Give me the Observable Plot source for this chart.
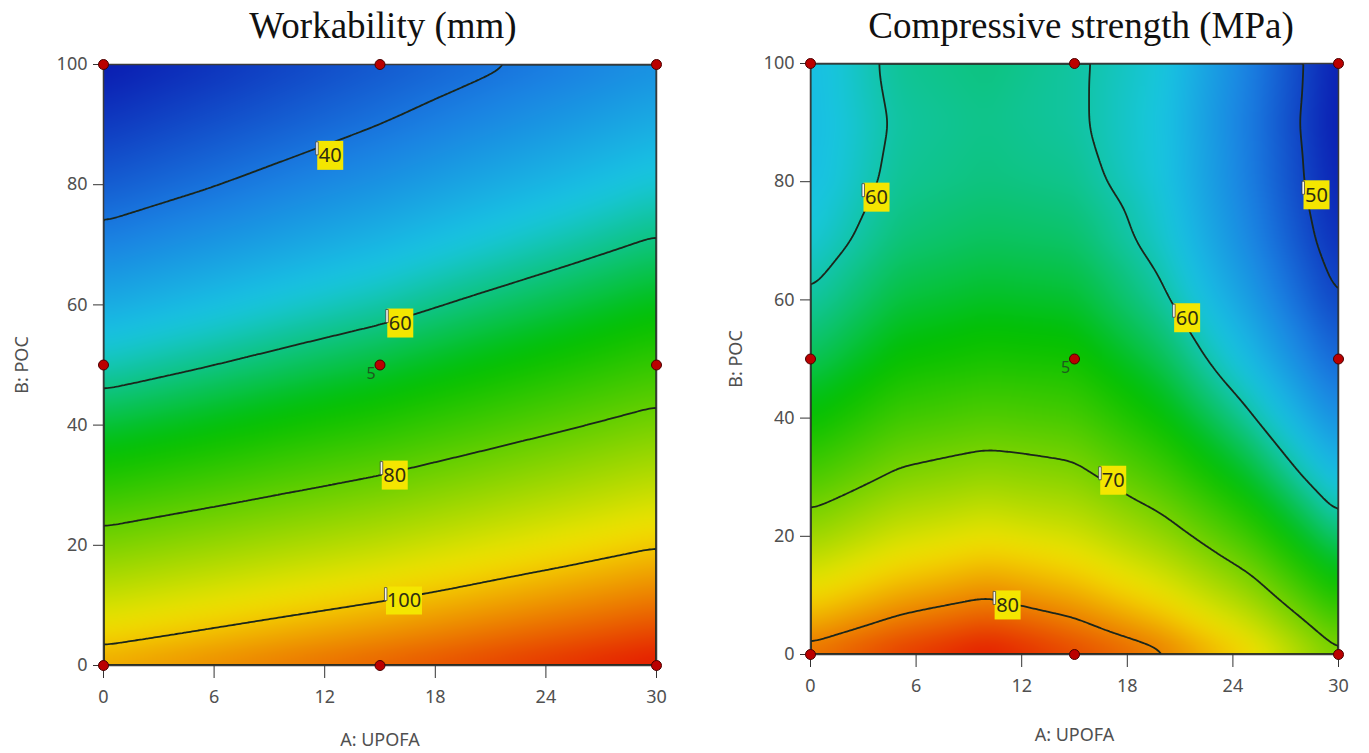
<!DOCTYPE html>
<html><head><meta charset="utf-8">
<script src="https://cdn.jsdelivr.net/npm/d3@7"></script>
<script src="https://cdn.jsdelivr.net/npm/@observablehq/plot@0.6"></script>
<style>
html,body{margin:0;padding:0;background:#fff;}
#root{position:relative;width:1369px;height:753px;overflow:hidden;background:#fff;}
.title{position:absolute;top:4px;font-family:"Liberation Serif","Times New Roman",serif;font-size:37px;color:#111;white-space:nowrap;transform:translateX(-50%);}
.panel{position:absolute;top:0;}
</style></head><body>
<div id="root">
  <div class="title" style="left:383px">Workability (mm)</div>
  <div class="title" style="left:1081px">Compressive strength (MPa)</div>
  <div class="panel" id="p1" style="left:0px"></div>
  <div class="panel" id="p2" style="left:690px"></div>
</div>
<script>
// ---- data ----
const gridA = [0, 5, 10, 15, 20, 25, 30];             // A: UPOFA grid columns
const gridB = [0, 10, 20, 30, 40, 50, 60, 70, 80, 90, 100]; // B: POC grid rows
// Workability (mm), rows = B (0..100), columns = A (0..30)
const workability = [
  [103.6, 106.1, 108.7, 111.2, 113.8, 116.4, 119.0],
  [ 92.9,  95.5,  98.1, 100.6, 103.4, 106.2, 109.0],
  [ 82.9,  85.5,  88.1,  90.6,  93.6,  96.6,  99.6],
  [ 73.5,  76.1,  78.8,  81.4,  84.5,  87.6,  90.7],
  [ 64.8,  67.4,  70.2,  72.8,  76.0,  79.2,  82.4],
  [ 56.7,  59.4,  62.2,  64.9,  68.2,  71.4,  74.7],
  [ 49.2,  52.0,  54.9,  57.6,  61.0,  64.2,  67.5],
  [ 42.4,  45.3,  48.2,  51.1,  54.4,  57.6,  60.9],
  [ 36.2,  39.2,  42.3,  45.2,  48.5,  51.6,  54.9],
  [ 30.7,  33.8,  36.9,  40.0,  43.2,  46.3,  49.5],
  [ 25.8,  29.0,  32.3,  35.5,  38.6,  41.5,  44.6]
];
// Compressive strength (MPa), rows = B (0..100), columns = A (0..30)
const strength = [
  [81.0, 83.2, 84.8, 82.8, 80.5, 76.5, 70.4],
  [76.1, 78.4, 79.8, 78.3, 75.6, 71.6, 65.6],
  [71.7, 74.2, 75.4, 74.3, 71.4, 67.2, 61.3],
  [67.9, 70.5, 71.5, 70.8, 67.7, 63.4, 57.7],
  [64.7, 67.4, 68.3, 67.8, 64.7, 60.3, 54.6],
  [62.1, 64.8, 65.6, 65.3, 62.3, 57.7, 52.0],
  [60.2, 62.9, 63.6, 63.3, 60.4, 55.7, 49.9],
  [58.8, 61.4, 62.1, 61.8, 59.2, 54.3, 48.5],
  [58.0, 60.6, 61.2, 60.8, 58.6, 53.6, 47.7],
  [57.8, 60.3, 60.9, 60.3, 58.5, 53.4, 47.3],
  [57.9, 60.6, 61.2, 60.3, 58.7, 53.8, 47.5]
];
const workLevels = [40, 60, 80, 100];
const strengthLevels = [50, 60, 70, 80];
const workLabelValues = [40, 60, 80, 100];
const workLabelA = [12.3, 16.1, 15.8, 16.3];
const workLabelB = [84.8, 56.9, 31.6, 10.8];
const strengthLabelValues = [60, 60, 50, 70, 80];
const strengthLabelA = [3.75, 21.4, 28.75, 17.2, 11.2];
const strengthLabelB = [77.3, 56.9, 77.7, 29.4, 8.3];
const designA = [0, 15, 30, 0, 15, 30, 0, 15, 30];
const designB = [0, 0, 0, 50, 50, 50, 100, 100, 100];
const centerA = [15], centerB = [50], centerRuns = ["5"];
const xTicks = [0, 6, 12, 18, 24, 30];
const yTicks = [0, 20, 40, 60, 80, 100];
const rampColors = ["#0a1ab0", "#1a7fe2", "#18c6e2", "#00c000", "#f4e400", "#e41400"];
const rampStops = [0, 0.17, 0.3, 0.46, 0.76, 1];

// ---- helpers ----
const ramp = t => {
  const i = Math.max(0, Math.min(rampStops.length - 2, d3.bisectRight(rampStops, t) - 1));
  const u = (t - rampStops[i]) / (rampStops[i + 1] - rampStops[i]);
  return d3.interpolateRgb(rampColors[i], rampColors[i + 1])(Math.max(0, Math.min(1, u)));
};
function gridPoints(grid) {
  const pts = [];
  grid.forEach((row, i) => row.forEach((v, j) => pts.push({a: gridA[j], b: gridB[i], v})));
  return pts;
}
function labelRows(vals, as, bs) { return vals.map((v, i) => ({v, a: as[i], b: bs[i], t: String(v)})); }
const box2 = {draw(ctx) { ctx.rect(-13, -15, 26, 29); }};
const box3 = {draw(ctx) { ctx.rect(-18, -14, 36, 28); }};
const brk2 = {draw(ctx) { ctx.rect(-14.5, -14, 2.5, 13); }};
const brk3 = {draw(ctx) { ctx.rect(-19.5, -13, 2.5, 13); }};

function panel(opts) {
  const pts = gridPoints(opts.grid);
  const labels = opts.labels;
  const l2 = labels.filter(d => d.t.length < 3), l3 = labels.filter(d => d.t.length >= 3);
  const design = designA.map((a, i) => ({a, b: designB[i]}));
  const center = centerA.map((a, i) => ({a, b: centerB[i], t: centerRuns[i]}));
  return Plot.plot({
    width: opts.width, height: 753,
    marginLeft: opts.ml, marginRight: opts.mr, marginTop: opts.mt, marginBottom: opts.mb,
    x: {domain: [0, 30]},
    y: {domain: [0, 100]},
    color: {type: "linear", domain: d3.extent(pts, d => d.v), interpolate: ramp},
    style: {fontFamily: "'Noto Sans', sans-serif", fontSize: "18px", color: "#505050", background: "transparent", overflow: "visible"},
    marks: [
      Plot.raster(pts, {x: "a", y: "b", fill: "v", interpolate: "barycentric", blur: 12, clip: true}),
      Plot.contour(pts, {x: "a", y: "b", value: "v", thresholds: opts.levels, interpolate: "barycentric", blur: 4, fill: "none", stroke: "#1b261b", strokeWidth: 1.8, clip: true}),
      Plot.frame({stroke: "#3a3a3a", strokeWidth: 1.5}),
      Plot.axisX({ticks: xTicks, tickSize: 13, tickPadding: 12, stroke: "#333", label: "A: UPOFA", labelAnchor: "center", labelArrow: "none", labelOffset: opts.xlo}),
      Plot.axisY({ticks: yTicks, tickSize: 10, tickPadding: 6, stroke: "#333", label: "B: POC", labelAnchor: "center", labelArrow: "none", labelOffset: opts.ylo}),
      Plot.dot(l2, {x: "a", y: "b", symbol: box2, fill: "#f4e600", stroke: "none"}),
      Plot.dot(l3, {x: "a", y: "b", symbol: box3, fill: "#f4e600", stroke: "none"}),
      Plot.dot(l2, {x: "a", y: "b", symbol: brk2, fill: "#f4f4f0", stroke: "#333", strokeWidth: 0.7}),
      Plot.dot(l3, {x: "a", y: "b", symbol: brk3, fill: "#f4f4f0", stroke: "#333", strokeWidth: 0.7}),
      Plot.text(labels, {x: "a", y: "b", text: "t", fill: "#2e2e12", fontSize: 20, fontFamily: "'Noto Sans', sans-serif"}),
      Plot.dot(design, {x: "a", y: "b", r: 5, fill: "#bb0000", stroke: "#4a0000", strokeWidth: 1}),
      Plot.text(center, {x: "a", y: "b", text: "t", dx: -9, dy: 9, fill: "#1e5a1e", fontSize: 16})
    ]
  });
}

document.getElementById("p1").append(panel({
  grid: workability, levels: workLevels,
  labels: labelRows(workLabelValues, workLabelA, workLabelB),
  width: 690, ml: 103, mr: 34, mt: 64, mb: 88, xlo: 80, ylo: 88
}));
document.getElementById("p2").append(panel({
  grid: strength, levels: strengthLevels,
  labels: labelRows(strengthLabelValues, strengthLabelA, strengthLabelB),
  width: 679, ml: 120, mr: 31, mt: 63, mb: 99, xlo: 86, ylo: 81
}));
</script>
</body></html>
